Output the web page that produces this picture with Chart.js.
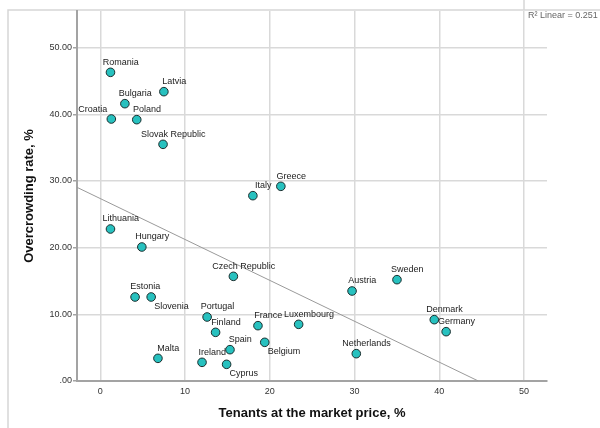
<!DOCTYPE html>
<html>
<head>
<meta charset="utf-8">
<script src="https://cdn.jsdelivr.net/npm/chart.js@4/dist/chart.umd.min.js"></script>
<style>
    body { margin: 0; background: #fff; }
    canvas { display: block; }
</style>
</head>
<body>
<canvas id="chart" width="600" height="428"></canvas>
<script>
const countries = ['Romania', 'Latvia', 'Bulgaria', 'Croatia', 'Poland', 'Slovak Republic', 'Greece', 'Italy',
    'Lithuania', 'Hungary', 'Czech Republic', 'Estonia', 'Slovenia', 'Portugal', 'Finland', 'France',
    'Luxembourg', 'Spain', 'Belgium', 'Malta', 'Ireland', 'Cyprus', 'Sweden', 'Austria', 'Denmark',
    'Germany', 'Netherlands'];
const tenantsMarketPrice = [1.2, 7.5, 2.9, 1.3, 4.3, 7.4, 21.3, 18.0,
    1.2, 4.9, 15.7, 4.1, 6.0, 12.6, 13.6, 18.6,
    23.4, 15.3, 19.4, 6.8, 12.0, 14.9, 35.0, 29.7, 39.4,
    40.8, 30.2];
const overcrowdingRate = [46.3, 43.4, 41.6, 39.3, 39.2, 35.5, 29.2, 27.8,
    22.8, 20.1, 15.7, 12.6, 12.6, 9.6, 7.3, 8.3,
    8.5, 4.7, 5.8, 3.4, 2.8, 2.5, 15.2, 13.5, 9.2,
    7.4, 4.1];
// fit line as it crosses the left edge and the x axis
const fitLineX = [-2.75, 44.6];
const fitLineY = [29.05, 0];
const xTicks = [0, 10, 20, 30, 40, 50];
const yTicks = [0, 10, 20, 30, 40, 50];
const rSquared = 0.251;

const FONT = "'Liberation Sans', Arial, sans-serif";

// where a label sits if not above-right of its point
const labelPlacement = {
    'Croatia': 'left',
    'Slovenia': 'below',
    'Belgium': 'below',
    'Cyprus': 'below'
};

const framePlugin = {
    id: 'frame',
    beforeDraw(chart) {
        const ctx = chart.ctx;
        ctx.save();
        ctx.fillStyle = '#fff';
        ctx.fillRect(0, 0, chart.width, chart.height);
        ctx.strokeStyle = '#d6d6d6';
        ctx.lineWidth = 1.5;
        ctx.beginPath();
        ctx.moveTo(8, chart.height);
        ctx.lineTo(8, 10);
        ctx.lineTo(chart.width, 10);
        ctx.moveTo(524, 0);
        ctx.lineTo(524, 10);
        ctx.stroke();
        ctx.restore();
    },
    afterDraw(chart) {
        const ctx = chart.ctx;
        ctx.save();
        ctx.font = '9px ' + FONT;
        ctx.fillStyle = '#666';
        ctx.textBaseline = 'middle';
        ctx.textAlign = 'left';
        ctx.fillText('R\u00b2 Linear = ' + rSquared.toFixed(3), 528, 16);
        ctx.restore();
    }
};

const labelPlugin = {
    id: 'pointLabels',
    afterDatasetsDraw(chart) {
        const ctx = chart.ctx;
        const meta = chart.getDatasetMeta(1);
        ctx.save();
        ctx.font = '9px ' + FONT;
        ctx.fillStyle = '#222';
        ctx.textBaseline = 'middle';
        meta.data.forEach((pt, i) => {
            const name = countries[i];
            const place = labelPlacement[name];
            if (place == 'left') {
                ctx.textAlign = 'right';
                ctx.fillText(name, pt.x - 4, pt.y - 9);
            } else if (place == 'below') {
                ctx.textAlign = 'left';
                ctx.fillText(name, pt.x + 3, pt.y + 9.5);
            } else {
                ctx.textAlign = 'center';
                ctx.fillText(name, pt.x + 10.3, pt.y - 10.3);
            }
        });
        ctx.restore();
    }
};

const points = countries.map((c, i) => ({ x: tenantsMarketPrice[i], y: overcrowdingRate[i] }));
const fitLine = fitLineX.map((x, i) => ({ x: x, y: fitLineY[i] }));

new Chart(document.querySelector('#chart'), {
    type: 'scatter',
    data: {
        datasets: [
            {
                type: 'line',
                data: fitLine,
                borderColor: '#9a9a9a',
                borderWidth: 1,
                pointRadius: 0,
                fill: false
            },
            {
                data: points,
                backgroundColor: '#27c1bf',
                borderColor: '#1c2f2f',
                borderWidth: 1,
                pointRadius: 4.3,
                pointHoverRadius: 4.3
            }
        ]
    },
    options: {
        responsive: false,
        animation: false,
        layout: { padding: { top: 11, right: 53, left: 0, bottom: 0 } },
        plugins: {
            legend: { display: false },
            tooltip: { enabled: false }
        },
        scales: {
            x: {
                type: 'linear',
                min: -2.75,
                max: 52.7,
                afterFit: s => { s.height = 47; },
                afterBuildTicks: s => { s.ticks = xTicks.map(v => ({ value: v })); },
                ticks: {
                    font: { family: FONT, size: 9 },
                    color: '#333',
                    padding: 5,
                    maxRotation: 0
                },
                grid: { color: '#d9d9d9', lineWidth: 1.5, drawTicks: false },
                border: { color: '#a3a3a3', width: 2 },
                title: {
                    display: true,
                    text: 'Tenants at the market price, %',
                    font: { family: FONT, size: 13, weight: 'bold' },
                    color: '#111',
                    padding: { top: 0, bottom: 7 }
                }
            },
            y: {
                type: 'linear',
                min: 0,
                max: 55.5,
                afterFit: s => { s.width = 77; },
                afterBuildTicks: s => { s.ticks = yTicks.map(v => ({ value: v })); },
                ticks: {
                    font: { family: FONT, size: 9 },
                    color: '#333',
                    padding: 1,
                    callback: v => v == 0 ? '.00' : v.toFixed(2)
                },
                grid: { color: '#d9d9d9', lineWidth: 1.5, tickLength: 4, tickColor: '#a3a3a3' },
                border: { color: '#a3a3a3', width: 2 },
                title: {
                    display: true,
                    text: 'Overcrowding rate, %',
                    font: { family: FONT, size: 13, weight: 'bold' },
                    color: '#111',
                    padding: { top: 22, bottom: 0 }
                }
            }
        }
    },
    plugins: [framePlugin, labelPlugin]
});
</script>
</body>
</html>
